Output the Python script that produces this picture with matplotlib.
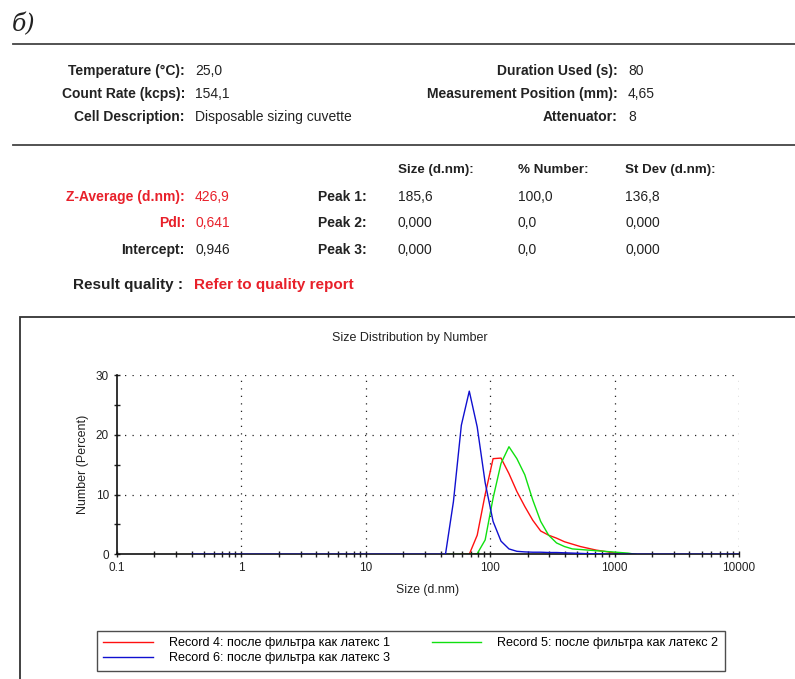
import numpy as np
import matplotlib.pyplot as plt
from matplotlib.patches import Rectangle
from matplotlib.ticker import FixedLocator, NullFormatter

plt.rcParams['font.family'] = ['Liberation Sans', 'DejaVu Sans']

# Zetasizer size classes (d.nm)
sizes = [0.4, 0.4632, 0.5365, 0.6213, 0.7195, 0.8332, 0.9650, 1.117, 1.294, 1.499,
         1.736, 2.010, 2.328, 2.696, 3.122, 3.615, 4.187, 4.849, 5.615, 6.503,
         7.531, 8.721, 10.10, 11.70, 13.54, 15.69, 18.17, 21.04, 24.36, 28.21,
         32.67, 37.84, 43.82, 50.75, 58.77, 68.06, 78.82, 91.28, 105.7, 122.4,
         141.8, 164.2, 190.1, 220.2, 255.0, 295.3, 342.0, 396.1, 458.7, 531.2,
         615.1, 712.4, 825.0, 955.4, 1106, 1281, 1484, 1718, 1990, 2305,
         2669, 3091, 3580, 4145, 4801, 5560, 6439, 7456, 8635, 10000]

# Record 4 (red): sizes 58.77 .. 1106
rec4_size = sizes[34:55]
rec4 = [0, 0, 3.2, 10.0, 16.0, 16.1, 13.5, 10.5, 8.0, 5.7, 3.9,
        3.2, 2.7, 2.1, 1.7, 1.3, 1.0, 0.7, 0.5, 0.3, 0]

# Record 5 (green): sizes 43.82 .. 1484
rec5_size = sizes[32:57]
rec5 = [0, 0, 0, 0, 0.1, 2.4, 9.4, 15.2, 18.0, 16.0, 13.3, 9.1, 5.5,
        3.2, 1.9, 1.3, 0.9, 0.8, 0.7, 0.6, 0.5, 0.4, 0.3, 0.2, 0]

# Record 6 (blue): full range
rec6_size = sizes
rec6 = [0] * 33 + [8.8, 21.6, 27.3, 21.3, 12.0, 5.5, 2.2, 0.9, 0.5, 0.4,
                   0.35, 0.35, 0.3, 0.3, 0.25, 0.2, 0.15, 0.1, 0.1, 0.05] + [0] * 17

labels = ['Record 4: после фильтра как латекс 1',
          'Record 6: после фильтра как латекс 3',
          'Record 5: после фильтра как латекс 2']

x_ticks = [0.1, 1, 10, 100, 1000, 10000]
x_ticklabels = ['0.1', '1', '10', '100', '1000', '10000']

RED_TXT = '#e8202a'
TXT = '#222222'
FS = 10

fig = plt.figure(figsize=(7.95, 6.79), dpi=100)

def fx(px):
    return px / 795

def fy(py):
    return 1 - py / 679

# header
fig.text(fx(12), fy(25), 'б)', fontsize=17, family='DejaVu Serif', style='italic',
         va='center', ha='left', color=TXT)
for yy in (44, 145):
    fig.add_artist(plt.Line2D([fx(13), 1], [fy(yy), fy(yy)], color='#444444', lw=1.3))

info_left = [('Temperature (°C):', '25,0'),
             ('Count Rate (kcps):', '154,1'),
             ('Cell Description:', 'Disposable sizing cuvette')]
info_right = [('Duration Used (s):', '80'),
              ('Measurement Position (mm):', '4,65'),
              ('Attenuator:', '8')]
for i, (lab, val) in enumerate(info_left):
    y = fy(71 + 23 * i)
    fig.text(fx(185), y, lab, ha='right', va='center', fontsize=FS, weight='bold', color=TXT)
    fig.text(fx(195), y, val, ha='left', va='center', fontsize=FS, color=TXT)
for i, (lab, val) in enumerate(info_right):
    y = fy(71 + 23 * i)
    fig.text(fx(618), y, lab, ha='right', va='center', fontsize=FS, weight='bold', color=TXT)
    fig.text(fx(628), y, val, ha='left', va='center', fontsize=FS, color=TXT)

# results table
col_x = [398, 518, 625]
for x, h in zip(col_x, ['Size (d.nm):', '% Number:', 'St Dev (d.nm):']):
    fig.text(fx(x), fy(170), h, ha='left', va='center', fontsize=9.6, weight='bold', color=TXT)

left_rows = [('Z-Average (d.nm):', '426,9', RED_TXT),
             ('PdI:', '0,641', RED_TXT),
             ('Intercept:', '0,946', TXT)]
peaks = [('Peak 1:', '185,6', '100,0', '136,8'),
         ('Peak 2:', '0,000', '0,0', '0,000'),
         ('Peak 3:', '0,000', '0,0', '0,000')]
row_y = [197, 223, 250]
for (lab, val, c), pk, yy in zip(left_rows, peaks, row_y):
    y = fy(yy)
    fig.text(fx(185), y, lab, ha='right', va='center', fontsize=FS, weight='bold', color=c)
    fig.text(fx(195), y, val, ha='left', va='center', fontsize=FS, color=c)
    fig.text(fx(367), y, pk[0], ha='right', va='center', fontsize=FS, weight='bold', color=TXT)
    for x, v in zip(col_x, pk[1:]):
        fig.text(fx(x), y, v, ha='left', va='center', fontsize=FS, color=TXT)

fig.text(fx(183), fy(285), 'Result quality :', ha='right', va='center', fontsize=11,
         weight='bold', color=TXT)
fig.text(fx(194), fy(285), 'Refer to quality report', ha='left', va='center', fontsize=11,
         weight='bold', color=RED_TXT)

# chart frame
fig.add_artist(Rectangle((fx(20), -0.05), 1.0, fy(317) + 0.05, transform=fig.transFigure,
                         fill=False, edgecolor='#333333', lw=1.3))
fig.text(fx(410), fy(338), 'Size Distribution by Number', ha='center', va='center',
         fontsize=9, color=TXT)

ax = fig.add_axes([fx(116.7), fy(554.3), fx(739) - fx(116.7), fy(375) - fy(554.3)])
ax.plot(rec4_size, rec4, color='#ff1010', lw=1.0, label=labels[0])
ax.plot(rec5_size, rec5, color='#10e010', lw=1.0, label=labels[2])
ax.plot(rec6_size, rec6, color='#1010d0', lw=1.0, label=labels[1], zorder=3)

ax.set_xscale('log')
ax.set_xlim(0.1, 10000)
ax.set_ylim(0, 30)
ax.set_xticks(x_ticks)
ax.set_xticklabels(x_ticklabels)
ax.xaxis.set_minor_locator(FixedLocator(
    [m * 10.0 ** e for e in range(-1, 4) for m in range(2, 10)]))
ax.xaxis.set_minor_formatter(NullFormatter())
ax.set_yticks([0, 10, 20, 30])
ax.set_yticks([5, 15, 25], minor=True)
ax.tick_params(which='both', direction='inout', length=5, width=1, labelsize=8.5,
               colors=TXT, pad=3)

for s in ('top', 'right'):
    ax.spines[s].set_visible(False)
for s in ('left', 'bottom'):
    ax.spines[s].set_linewidth(1.2)
    ax.spines[s].set_color('#111111')

for g in [1, 10, 100, 1000, 10000]:
    ax.axvline(g, color=TXT, lw=0.9, ls=(0, (1, 5)), zorder=0)
for g in [10, 20, 30]:
    ax.axhline(g, color=TXT, lw=0.9, ls=(0, (1, 5)), zorder=0)

ax.set_xlabel('Size (d.nm)', fontsize=8.8, color=TXT, labelpad=7)
ax.set_ylabel('Number (Percent)', fontsize=9, color=TXT, labelpad=5)

handles, labs = ax.get_legend_handles_labels()
order = [0, 2, 1]
leg = fig.legend([handles[i] for i in order], [labs[i] for i in order],
                 loc='upper left', bbox_to_anchor=(fx(97), fy(631)),
                 ncol=2, fontsize=9.1, frameon=True, fancybox=False,
                 handlelength=3.9, handletextpad=1.3, borderpad=0.5, labelspacing=0.25,
                 columnspacing=3.3, borderaxespad=0)
leg.get_frame().set_edgecolor(TXT)
leg.get_frame().set_linewidth(1.0)

fig.savefig('out.png', dpi=100)
